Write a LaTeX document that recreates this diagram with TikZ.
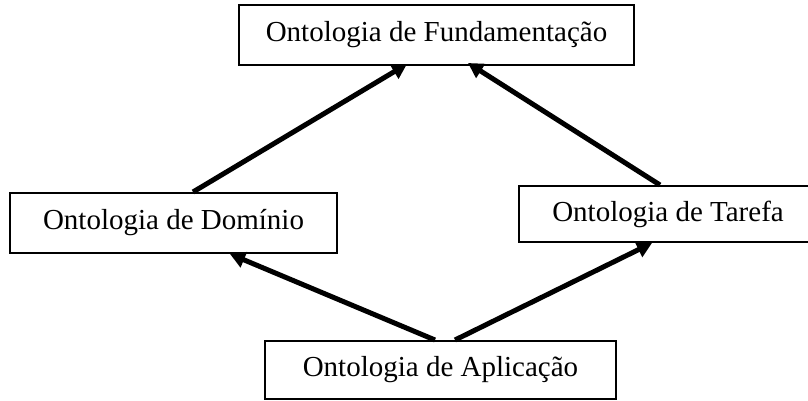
\documentclass[tikz,border=0pt]{standalone}
\usepackage{fontspec}
\setmainfont{Liberation Serif}
\usetikzlibrary{arrows.meta,calc}
\tikzset{
  obox/.style={draw=black, line width=2pt, fill=white, rectangle, inner sep=0pt, font=\fontsize{29}{33}\selectfont},
  oarrow/.style={line width=5pt, -{Triangle[length=15pt,width=16pt]}}
}
\begin{document}
\begin{tikzpicture}[x=1pt,y=-1pt]
\useasboundingbox (0,0) rectangle (808,401);
\fill[white] (0,0) rectangle (808,401);
\node[obox, minimum width=395pt, minimum height=60pt] (fund) at (436.5,35) {Ontologia de Fundamentação};
\node[obox, minimum width=327pt, minimum height=60pt] (dom) at (173.5,223) {Ontologia de Domínio};
\node[obox, minimum width=298pt, minimum height=56pt] (tar) at (668,214) {Ontologia de Tarefa};
\node[obox, minimum width=351pt, minimum height=58pt] (apl) at (440.5,370) {Ontologia de Aplicação};
\draw[oarrow] ($(dom.north)+(19.5,0)$) -- ($(fund.south)+(-29.5,-2)$);
\draw[oarrow] ($(tar.north)+(-8,0)$) -- ($(fund.south)+(31.5,-3)$);
\draw[oarrow] ($(apl.north)+(-5.5,0)$) -- ($(dom.south)+(56.5,0)$);
\draw[oarrow] ($(apl.north)+(14.5,0)$) -- ($(tar.south)+(-16,0)$);
\end{tikzpicture}
\end{document}
